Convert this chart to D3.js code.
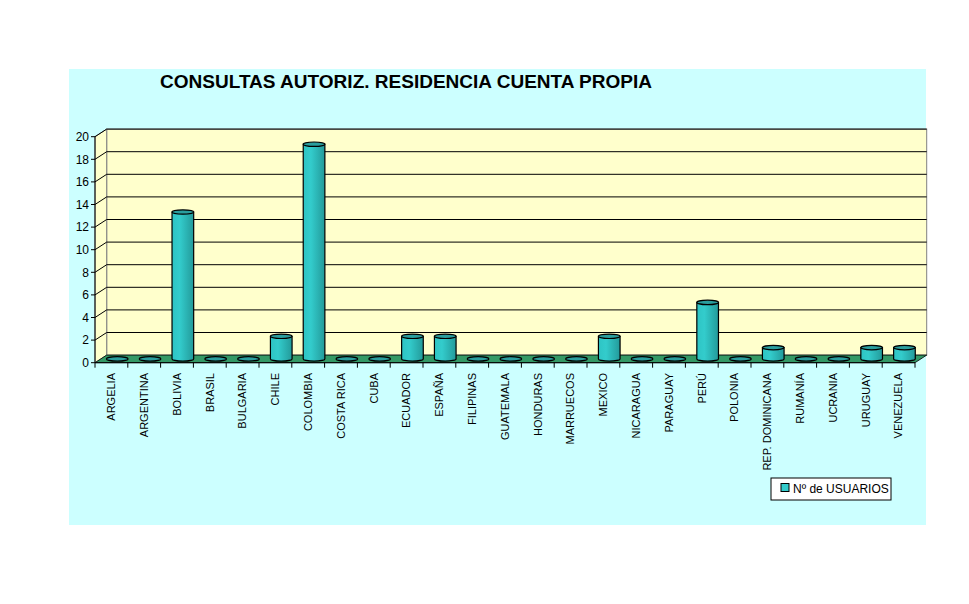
<!DOCTYPE html>
<html><head><meta charset="utf-8">
<script src="https://cdn.jsdelivr.net/npm/d3@7"></script>
<style>body{margin:0;background:#fff}svg{display:block}text{font-family:Arial,"Liberation Sans",sans-serif}</style>
</head><body>
<svg id="c" width="969" height="604"></svg>
<script>
const categories = ["ARGELIA","ARGENTINA","BOLIVIA","BRASIL","BULGARIA","CHILE","COLOMBIA","COSTA RICA","CUBA","ECUADOR","ESPAÑA","FILIPINAS","GUATEMALA","HONDURAS","MARRUECOS","MEXICO","NICARAGUA","PARAGUAY","PERÚ","POLONIA","REP. DOMINICANA","RUMANÍA","UCRANIA","URUGUAY","VENEZUELA"];
const values = [0,0,13,0,0,2,19,0,0,2,2,0,0,0,0,2,0,0,5,0,1,0,0,1,1];
const yTicks = [0,2,4,6,8,10,12,14,16,18,20];
const seriesName = "Nº de USUARIOS";
const title = "CONSULTAS AUTORIZ. RESIDENCIA CUENTA PROPIA";

const svg = d3.select("#c");
const DX = 11.7, DY = -7.6;
const x = d3.scaleBand().domain(categories).range([95, 915]).paddingInner(0).paddingOuter(0);
const y = d3.scaleLinear().domain([0, 20]).range([362.7, 136.7]);

// chart area
svg.append("rect").attr("x",69).attr("y",69).attr("width",857).attr("height",456).attr("fill","#CCFFFF");

// title
svg.append("text").attr("x",160).attr("y",87.5).attr("font-size",18).attr("font-weight","bold")
  .attr("textLength",492).attr("lengthAdjust","spacingAndGlyphs").text(title);

const x0 = x.range()[0], x1 = x.range()[1];
// back wall
svg.append("rect").attr("x",x0+DX).attr("y",y(20)+DY).attr("width",x1-x0).attr("height",y(0)-y(20))
  .attr("fill","#FFFFCC").attr("stroke","#808080").attr("stroke-width",1);
// left wall
svg.append("path").attr("d",`M${x0},${y(0)}L${x0},${y(20)}L${x0+DX},${y(20)+DY}L${x0+DX},${y(0)+DY}Z`)
  .attr("fill","#FFFFCC").attr("stroke","#808080").attr("stroke-width",1);
// gridlines
yTicks.forEach(t=>{
  if(t===0) return;
  svg.append("path").attr("d",`M${x0},${y(t)}L${x0+DX},${y(t)+DY}L${x1+DX},${y(t)+DY}`)
    .attr("fill","none").attr("stroke","#000").attr("stroke-width",1);
});
// floor
svg.append("path").attr("d",`M${x0},${y(0)}L${x0+DX},${y(0)+DY}L${x1+DX},${y(0)+DY}L${x1},${y(0)}Z`)
  .attr("fill","#339966").attr("stroke","#000").attr("stroke-width",0.8);

// gradient
const defs = svg.append("defs");
const g = defs.append("linearGradient").attr("id","cyl").attr("x1","0").attr("x2","1").attr("y1","0").attr("y2","0");
g.append("stop").attr("offset","0%").attr("stop-color","#2EC4C4");
g.append("stop").attr("offset","35%").attr("stop-color","#33CCCC");
g.append("stop").attr("offset","100%").attr("stop-color","#239A9A");

// cylinders
const bw = x.bandwidth()*0.66, ry = 2.2;
const cyl = svg.append("g");
categories.forEach((c,i)=>{
  const v = values[i];
  const cx = x(c) + x.bandwidth()/2 + DX/2;
  const yb = y(0) + DY/2, yt = y(v) + DY/2;
  const l = cx - bw/2, r = cx + bw/2;
  if (v > 0) {
    cyl.append("path").attr("d",`M${l},${yt}L${l},${yb}A${bw/2},${ry} 0 0 0 ${r},${yb}L${r},${yt}Z`)
      .attr("fill","url(#cyl)").attr("stroke","#000").attr("stroke-width",1.2);
  }
  cyl.append("ellipse").attr("cx",cx).attr("cy",yt).attr("rx",bw/2).attr("ry",ry)
    .attr("fill","#2A9E9E").attr("stroke","#000").attr("stroke-width",1.2);
});

// y axis
const yAxis = svg.append("g");
yAxis.append("line").attr("x1",x0).attr("x2",x0).attr("y1",y(0)).attr("y2",y(20)).attr("stroke","#000");
yTicks.forEach(t=>{
  yAxis.append("line").attr("x1",x0-4).attr("x2",x0).attr("y1",y(t)).attr("y2",y(t)).attr("stroke","#000");
  yAxis.append("text").attr("x",x0-6).attr("y",y(t)).attr("dy","0.36em").attr("text-anchor","end").attr("font-size",12).text(t);
});

// x axis
const xAxis = svg.append("g");
xAxis.append("line").attr("x1",x0).attr("x2",x1).attr("y1",y(0)).attr("y2",y(0)).attr("stroke","#000");
categories.concat([null]).forEach((c,i)=>{
  const tx = c===null ? x1 : x(c);
  xAxis.append("line").attr("x1",tx).attr("x2",tx).attr("y1",y(0)).attr("y2",y(0)+5).attr("stroke","#000");
});
categories.forEach(c=>{
  const cx = x(c) + x.bandwidth()/2;
  xAxis.append("text").attr("transform",`translate(${cx},373) rotate(-90)`)
    .attr("text-anchor","end").attr("dy","0.35em").attr("font-size",11).text(c);
});

// legend
const lg = svg.append("g");
lg.append("rect").attr("x",771).attr("y",478).attr("width",120).attr("height",22).attr("fill","#fff").attr("stroke","#000");
lg.append("rect").attr("x",781).attr("y",483.5).attr("width",8).attr("height",8).attr("fill","#33CCCC").attr("stroke","#000");
lg.append("text").attr("x",793).attr("y",493).attr("font-size",12).text(seriesName);
</script>
</body></html>
